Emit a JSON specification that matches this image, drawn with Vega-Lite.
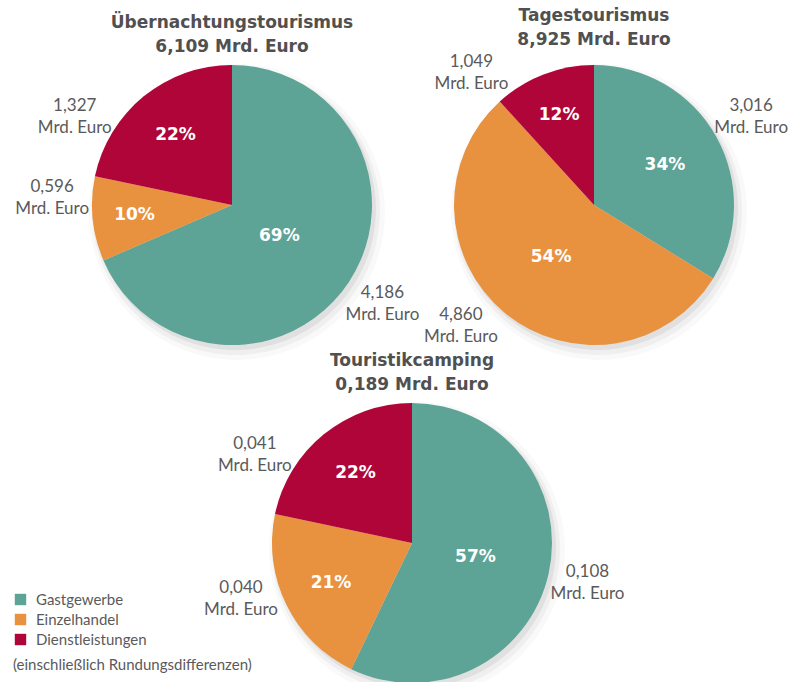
{
  "$schema": "https://vega.github.io/schema/vega-lite/v6.json",
  "padding": {"left": 13, "top": 7, "right": 0, "bottom": 0},
  "config": {
    "view": {"stroke": null},
    "locale": {"number": {"decimal": ",", "thousands": ".", "grouping": [3], "currency": ["", " €"]}},
    "title": {"font": "DejaVu Sans", "fontSize": 17, "fontWeight": "bold", "color": "#505050", "lineHeight": 24, "anchor": "middle", "offset": 4, "frame": "group"}
  },
  "data": {"values": [
    {"pie": "Übernachtungstourismus", "sector": "Gastgewerbe", "value": 4.186, "pct": 0.69},
    {"pie": "Übernachtungstourismus", "sector": "Einzelhandel", "value": 0.596, "pct": 0.10},
    {"pie": "Übernachtungstourismus", "sector": "Dienstleistungen", "value": 1.327, "pct": 0.22},
    {"pie": "Tagestourismus", "sector": "Gastgewerbe", "value": 3.016, "pct": 0.34},
    {"pie": "Tagestourismus", "sector": "Einzelhandel", "value": 4.860, "pct": 0.54},
    {"pie": "Tagestourismus", "sector": "Dienstleistungen", "value": 1.049, "pct": 0.12},
    {"pie": "Touristikcamping", "sector": "Gastgewerbe", "value": 0.108, "pct": 0.57},
    {"pie": "Touristikcamping", "sector": "Einzelhandel", "value": 0.040, "pct": 0.21},
    {"pie": "Touristikcamping", "sector": "Dienstleistungen", "value": 0.041, "pct": 0.22}
  ]},
  "resolve": {"scale": {"theta": "independent"}},
  "spacing": -8,
  "vconcat": [
    {
      "spacing": 22,
      "bounds": "flush",
      "resolve": {"scale": {"theta": "independent"}},
      "hconcat": [
        {
          "width": 340, "height": 290,
          "title": {"text": ["Übernachtungstourismus", "6,109 Mrd. Euro"]},
          "transform": [{"filter": "datum.pie === 'Übernachtungstourismus'"}],
          "encoding": {
            "theta": {"field": "value", "type": "quantitative", "stack": "normalize"},
            "order": {"field": "sector", "type": "ordinal", "sort": "descending"},
            "detail": {"field": "sector", "type": "nominal"}
          },
          "layer": [
            {"mark": {"type": "arc", "outerRadius": 148, "opacity": 0.025, "xOffset": 5, "yOffset": 7}, "encoding": {"color": {"value": "#000000"}}},
            {"mark": {"type": "arc", "outerRadius": 144, "opacity": 0.04, "xOffset": 4, "yOffset": 6}, "encoding": {"color": {"value": "#000000"}}},
            {"mark": {"type": "arc", "outerRadius": 141, "opacity": 0.06, "xOffset": 3, "yOffset": 4}, "encoding": {"color": {"value": "#000000"}}},
            {"mark": {"type": "arc", "outerRadius": 140},
             "encoding": {"color": {"field": "sector", "type": "nominal",
               "scale": {"domain": ["Gastgewerbe", "Einzelhandel", "Dienstleistungen"], "range": ["#5da396", "#e8913f", "#b00538"]},
               "legend": {"orient": "none", "legendX": -49, "legendY": 532, "title": "(einschließlich Rundungsdifferenzen)", "titleLimit": 400, "titleOrient": "bottom", "titleAnchor": "start", "titleFont": "Lato", "titleFontSize": 15, "titleFontWeight": "normal", "titleColor": "#5a5a5a", "titlePadding": 10, "labelFont": "Lato", "labelFontSize": 15, "labelColor": "#5a5a5a", "symbolType": "square", "symbolSize": 130, "symbolStrokeWidth": 0, "symbolOpacity": 1, "rowPadding": 4, "labelOffset": 8}}}},
            {"mark": {"type": "text", "radius": {"expr": "105 - 70*datum.pct"}, "font": "DejaVu Sans", "fontWeight": "bold", "fontSize": 17, "align": "center", "baseline": "middle"},
             "encoding": {"text": {"field": "pct", "type": "quantitative", "format": ".0%"}, "color": {"value": "#ffffff"}}},
            {"mark": {"type": "text", "radius": 180, "thetaOffset": {"expr": "datum.sector === 'Dienstleistungen' ? -0.38 : datum.sector === 'Einzelhandel' ? 0.14 : 0"}, "dy": -11, "font": "Lato", "fontSize": 17, "align": "center", "baseline": "middle"},
             "encoding": {"text": {"field": "value", "type": "quantitative", "format": ".3f"}, "color": {"value": "#5a5a5a"}}},
            {"mark": {"type": "text", "radius": 180, "thetaOffset": {"expr": "datum.sector === 'Dienstleistungen' ? -0.38 : datum.sector === 'Einzelhandel' ? 0.14 : 0"}, "dy": 11, "font": "Lato", "fontSize": 17, "align": "center", "baseline": "middle", "text": "Mrd. Euro"},
             "encoding": {"color": {"value": "#5a5a5a"}}}
          ]
        },
        {
          "width": 340, "height": 290,
          "title": {"text": ["Tagestourismus", "8,925 Mrd. Euro"]},
          "transform": [{"filter": "datum.pie === 'Tagestourismus'"}],
          "encoding": {
            "theta": {"field": "value", "type": "quantitative", "stack": "normalize"},
            "order": {"field": "sector", "type": "ordinal", "sort": "descending"},
            "detail": {"field": "sector", "type": "nominal"}
          },
          "layer": [
            {"mark": {"type": "arc", "outerRadius": 148, "opacity": 0.025, "xOffset": 5, "yOffset": 7}, "encoding": {"color": {"value": "#000000"}}},
            {"mark": {"type": "arc", "outerRadius": 144, "opacity": 0.04, "xOffset": 4, "yOffset": 6}, "encoding": {"color": {"value": "#000000"}}},
            {"mark": {"type": "arc", "outerRadius": 141, "opacity": 0.06, "xOffset": 3, "yOffset": 4}, "encoding": {"color": {"value": "#000000"}}},
            {"mark": {"type": "arc", "outerRadius": 140},
             "encoding": {"color": {"field": "sector", "type": "nominal",
               "scale": {"domain": ["Gastgewerbe", "Einzelhandel", "Dienstleistungen"], "range": ["#5da396", "#e8913f", "#b00538"]}}}},
            {"mark": {"type": "text", "radius": {"expr": "105 - 70*datum.pct"}, "font": "DejaVu Sans", "fontWeight": "bold", "fontSize": 17, "align": "center", "baseline": "middle"},
             "encoding": {"text": {"field": "pct", "type": "quantitative", "format": ".0%"}, "color": {"value": "#ffffff"}}},
            {"mark": {"type": "text", "radius": 180, "thetaOffset": {"expr": "datum.sector === 'Dienstleistungen' ? -0.38 : datum.sector === 'Einzelhandel' ? 0.14 : 0"}, "dy": -11, "font": "Lato", "fontSize": 17, "align": "center", "baseline": "middle"},
             "encoding": {"text": {"field": "value", "type": "quantitative", "format": ".3f"}, "color": {"value": "#5a5a5a"}}},
            {"mark": {"type": "text", "radius": 180, "thetaOffset": {"expr": "datum.sector === 'Dienstleistungen' ? -0.38 : datum.sector === 'Einzelhandel' ? 0.14 : 0"}, "dy": 11, "font": "Lato", "fontSize": 17, "align": "center", "baseline": "middle", "text": "Mrd. Euro"},
             "encoding": {"color": {"value": "#5a5a5a"}}}
          ]
        }
      ]
    },
    {
      "width": 700, "height": 290,
      "title": {"text": ["Touristikcamping", "0,189 Mrd. Euro"]},
      "transform": [{"filter": "datum.pie === 'Touristikcamping'"}],
      "encoding": {
        "theta": {"field": "value", "type": "quantitative", "stack": "normalize"},
        "order": {"field": "sector", "type": "ordinal", "sort": "descending"},
        "detail": {"field": "sector", "type": "nominal"}
      },
      "layer": [
        {"mark": {"type": "arc", "outerRadius": 148, "opacity": 0.025, "xOffset": 5, "yOffset": 7}, "encoding": {"color": {"value": "#000000"}}},
        {"mark": {"type": "arc", "outerRadius": 144, "opacity": 0.04, "xOffset": 4, "yOffset": 6}, "encoding": {"color": {"value": "#000000"}}},
        {"mark": {"type": "arc", "outerRadius": 141, "opacity": 0.06, "xOffset": 3, "yOffset": 4}, "encoding": {"color": {"value": "#000000"}}},
        {"mark": {"type": "arc", "outerRadius": 140},
         "encoding": {"color": {"field": "sector", "type": "nominal",
           "scale": {"domain": ["Gastgewerbe", "Einzelhandel", "Dienstleistungen"], "range": ["#5da396", "#e8913f", "#b00538"]}}}},
        {"mark": {"type": "text", "radius": {"expr": "105 - 70*datum.pct"}, "font": "DejaVu Sans", "fontWeight": "bold", "fontSize": 17, "align": "center", "baseline": "middle"},
         "encoding": {"text": {"field": "pct", "type": "quantitative", "format": ".0%"}, "color": {"value": "#ffffff"}}},
        {"mark": {"type": "text", "radius": 180, "thetaOffset": {"expr": "datum.sector === 'Dienstleistungen' ? -0.38 : datum.sector === 'Einzelhandel' ? 0.14 : 0"}, "dy": -11, "font": "Lato", "fontSize": 17, "align": "center", "baseline": "middle"},
         "encoding": {"text": {"field": "value", "type": "quantitative", "format": ".3f"}, "color": {"value": "#5a5a5a"}}},
        {"mark": {"type": "text", "radius": 180, "thetaOffset": {"expr": "datum.sector === 'Dienstleistungen' ? -0.38 : datum.sector === 'Einzelhandel' ? 0.14 : 0"}, "dy": 11, "font": "Lato", "fontSize": 17, "align": "center", "baseline": "middle", "text": "Mrd. Euro"},
         "encoding": {"color": {"value": "#5a5a5a"}}}
      ]
    }
  ]
}
